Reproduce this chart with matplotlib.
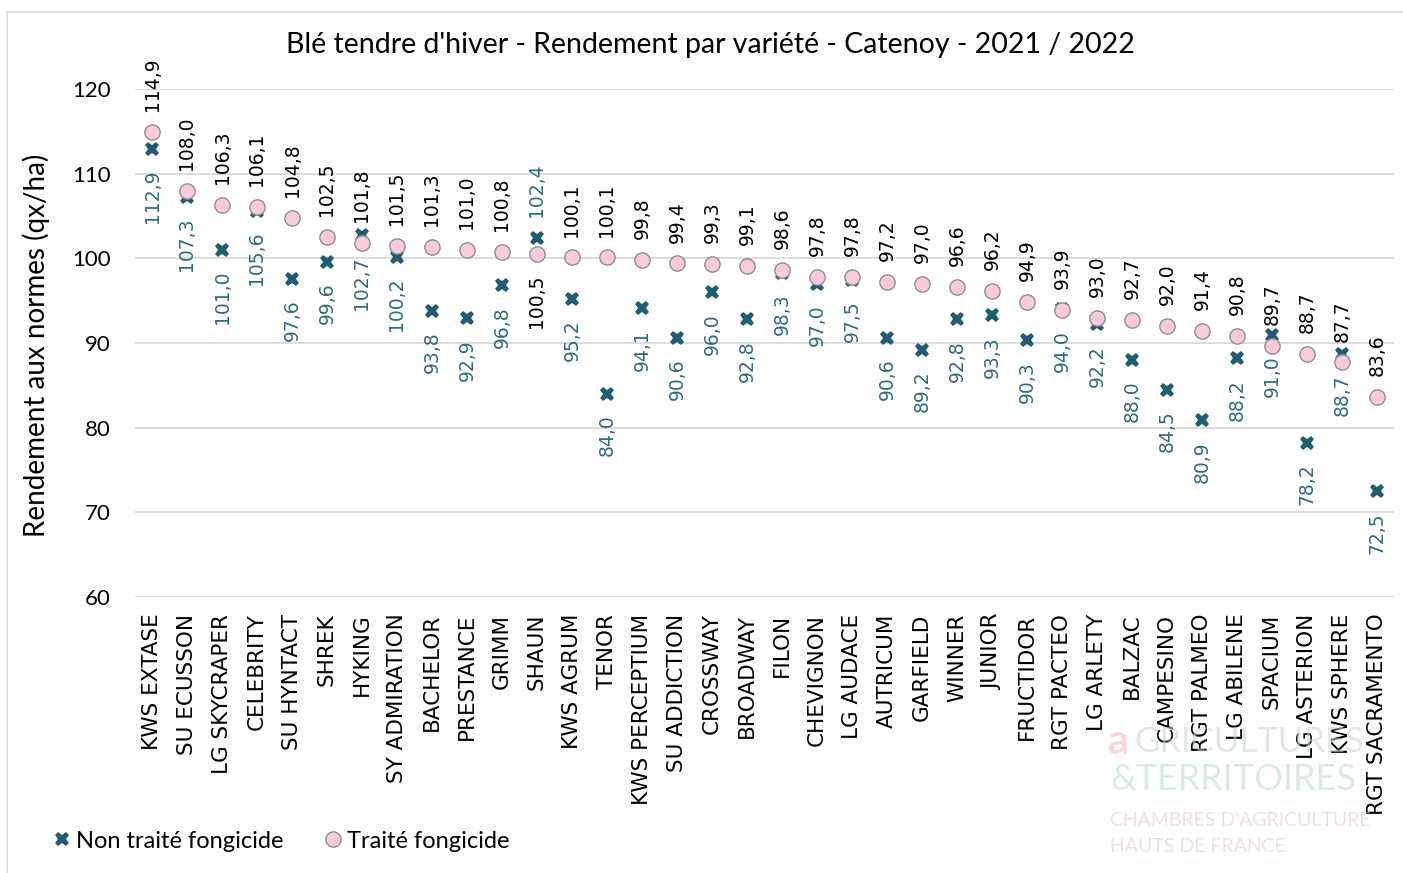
import matplotlib
matplotlib.use('Agg')
import matplotlib.pyplot as plt
from matplotlib.lines import Line2D
import numpy as np

varieties = ["KWS EXTASE", "SU ECUSSON", "LG SKYCRAPER", "CELEBRITY", "SU HYNTACT",
             "SHREK", "HYKING", "SY ADMIRATION", "BACHELOR", "PRESTANCE", "GRIMM",
             "SHAUN", "KWS AGRUM", "TENOR", "KWS PERCEPTIUM", "SU ADDICTION",
             "CROSSWAY", "BROADWAY", "FILON", "CHEVIGNON", "LG AUDACE", "AUTRICUM",
             "GARFIELD", "WINNER", "JUNIOR", "FRUCTIDOR", "RGT PACTEO", "LG ARLETY",
             "BALZAC", "CAMPESINO", "RGT PALMEO", "LG ABILENE", "SPACIUM",
             "LG ASTERION", "KWS SPHERE", "RGT SACRAMENTO"]

traite = [114.9, 108.0, 106.3, 106.1, 104.8, 102.5, 101.8, 101.5, 101.3, 101.0,
          100.8, 100.5, 100.1, 100.1, 99.8, 99.4, 99.3, 99.1, 98.6, 97.8, 97.8,
          97.2, 97.0, 96.6, 96.2, 94.9, 93.9, 93.0, 92.7, 92.0, 91.4, 90.8, 89.7,
          88.7, 87.7, 83.6]

non_traite = [112.9, 107.3, 101.0, 105.6, 97.6, 99.6, 102.7, 100.2, 93.8, 92.9,
              96.8, 102.4, 95.2, 84.0, 94.1, 90.6, 96.0, 92.8, 98.3, 97.0, 97.5,
              90.6, 89.2, 92.8, 93.3, 90.3, 94.0, 92.2, 88.0, 84.5, 80.9, 88.2,
              91.0, 78.2, 88.7, 72.5]

yticks = [60, 70, 80, 90, 100, 110, 120]
title = "Blé tendre d'hiver - Rendement par variété - Catenoy - 2021 / 2022"
ylabel = "Rendement aux normes (qx/ha)"
series_names = ["Non traité fongicide", "Traité fongicide"]
swap_labels = {"SHAUN"}

TEAL = '#1F5E72'
TEAL_TXT = '#2B6C82'
PINK = '#F9CADA'
EDGE = '#8E8E8E'

W, H = 1403, 873
fig = plt.figure(figsize=(W / 100, H / 100), dpi=100)
fig.patch.set_facecolor('white')

# outer chart border
fig.add_artist(Line2D([7 / W, 1.0], [1 - 12 / H, 1 - 12 / H], color='#D9D9D9', lw=1.2))
fig.add_artist(Line2D([7 / W, 7 / W], [1 - 12 / H, 0.0], color='#D9D9D9', lw=1.2))

# faint watermark (logo text)
fig.text(1108 / W, 1 - 742 / H, "a", color='#F2B8B8', fontsize=30, family='Lato',
         fontweight='bold', va='center', ha='left', alpha=0.55, zorder=0)
fig.text(1134 / W, 1 - 742 / H, "GRICULTURES", color='#C9D6CF', fontsize=25, family='Lato',
         va='center', ha='left', alpha=0.55, zorder=0)
fig.text(1110 / W, 1 - 780 / H, "&TERRITOIRES", color='#B8DCC8', fontsize=26, family='Lato',
         va='center', ha='left', alpha=0.55, zorder=0)
fig.text(1110 / W, 1 - 821 / H, "CHAMBRES D'AGRICULTURE", color='#E8C3C8', fontsize=14,
         family='Lato', va='center', ha='left', alpha=0.55, zorder=0)
fig.text(1110 / W, 1 - 847 / H, "HAUTS DE FRANCE", color='#E8C3C8', fontsize=14,
         family='Lato', va='center', ha='left', alpha=0.55, zorder=0)

ax = fig.add_axes([134.5 / W, 1 - 597 / H, (1394.5 - 134.5) / W, (597 - 89) / H])
ax.patch.set_alpha(0)
x = np.arange(len(varieties))
ax.set_xlim(-0.5, len(varieties) - 0.5)
ax.set_ylim(60, 120)
ax.set_yticks(yticks)
ax.grid(axis='y', color='#D9D9D9', lw=1.3)
ax.set_axisbelow(True)
for s in ax.spines.values():
    s.set_visible(False)
ax.tick_params(axis='both', length=0)
ax.tick_params(axis='y', pad=17, labelsize=16)
ax.tick_params(axis='x', pad=12)
ax.set_xticks(x)
ax.set_xticklabels(varieties, rotation=90, fontsize=15.5, family='DejaVu Sans')
for lab in ax.get_yticklabels():
    lab.set_family('Lato')

ax.plot(x, non_traite, linestyle='none', marker='X', markersize=10.5, color=TEAL,
        markeredgewidth=0, zorder=3, label=series_names[0])
ax.plot(x, traite, linestyle='none', marker='o', markersize=11, markerfacecolor=PINK,
        markeredgecolor=EDGE, markeredgewidth=1.0, zorder=4, label=series_names[1])

def fmt(v):
    return f"{v:.1f}".replace('.', ',')

for i, name in enumerate(varieties):
    t, n = traite[i], non_traite[i]
    t_up = name not in swap_labels
    ax.annotate(fmt(t), (i, t), xytext=(0, 15 if t_up else -15), textcoords='offset points',
                rotation=90, ha='center', va='bottom' if t_up else 'top',
                fontsize=13.5, color='black', family='DejaVu Sans', zorder=5,
                annotation_clip=False)
    ax.annotate(fmt(n), (i, n), xytext=(0, -15 if t_up else 15), textcoords='offset points',
                rotation=90, ha='center', va='top' if t_up else 'bottom',
                fontsize=13.5, color=TEAL_TXT, family='DejaVu Sans', zorder=5,
                annotation_clip=False)

fig.text(710 / W, 1 - 45 / H, title, fontsize=20.5, family='Lato', ha='center', va='center')
fig.text(36 / W, 1 - 345 / H, ylabel, fontsize=20, family='Lato', rotation=90,
         ha='center', va='center')

handles = [Line2D([], [], linestyle='none', marker='X', markersize=10.5, color=TEAL,
                  markeredgewidth=0),
           Line2D([], [], linestyle='none', marker='o', markersize=11, markerfacecolor=PINK,
                  markeredgecolor=EDGE, markeredgewidth=1.0)]
fig.legend(handles, series_names, loc='center left', bbox_to_anchor=(36 / W, 1 - 841 / H),
           ncol=2, frameon=False, handletextpad=0.0, columnspacing=1.5, borderpad=0,
           handlelength=1.2, prop={'family': 'Lato', 'size': 17})

fig.savefig('out.png', dpi=100)
